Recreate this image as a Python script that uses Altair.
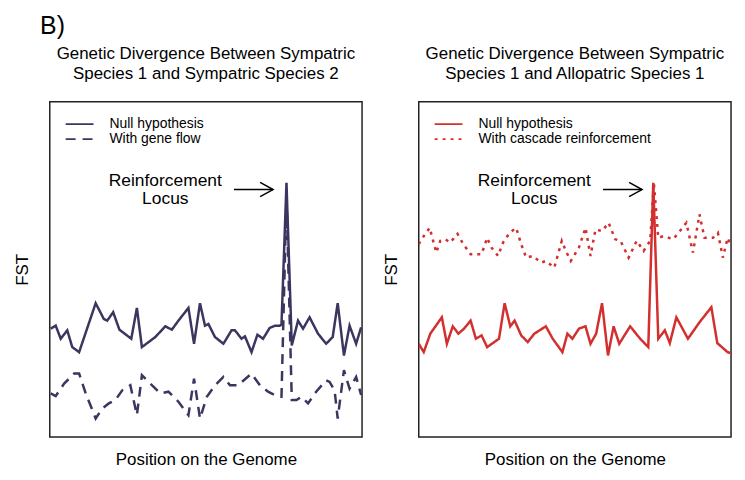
import altair as alt
import pandas as pd

FONT = "Liberation Sans"
NAVY = "#3a3660"
RED = "#d32f2f"

# ---- data (x: position 0-100, y: relative FST 0-1) ----
left_null_x = [0.3, 1.9, 3.5, 5.6, 7.2, 9.4, 14.7, 17.3, 18.4, 20.3, 22.3, 26.1, 27.9, 29.5,
               33.8, 37.0, 39.1, 41.2, 44.4, 46.2, 48.1, 49.7, 50.8, 52.9, 55.6, 58.2, 59.3,
               61.4, 62.5, 64.6, 66.5, 68.3, 70.4, 72.1, 73.6, 74.2, 75.8, 77.5, 79.5, 81.1,
               83.2, 85.9, 88.5, 90.6, 92.2, 94.2, 96.0, 98.1, 99.7]
left_null_y = [0.323, 0.332, 0.293, 0.318, 0.268, 0.253, 0.399, 0.352, 0.347, 0.372, 0.320,
               0.293, 0.385, 0.268, 0.298, 0.330, 0.320, 0.347, 0.385, 0.278, 0.399, 0.332,
               0.337, 0.298, 0.278, 0.318, 0.318, 0.293, 0.300, 0.253, 0.305, 0.293, 0.325,
               0.332, 0.332, 0.335, 0.758, 0.273, 0.347, 0.323, 0.357, 0.308, 0.278, 0.298,
               0.399, 0.243, 0.332, 0.278, 0.327]

left_flow_x = [0.3, 1.9, 4.6, 7.8, 9.4, 11.5, 14.7, 16.8, 18.9, 21.0, 23.2, 25.8, 27.9, 29.5,
               32.2, 35.4, 38.0, 41.2, 44.4, 46.2, 48.1, 50.3, 52.9, 55.6, 57.7, 60.3, 64.6,
               67.3, 69.9, 73.1, 74.2, 75.8, 77.5, 79.0, 80.6, 82.7, 85.3, 88.5, 89.6, 91.2,
               92.2, 94.2, 96.0, 98.1, 99.7]
left_flow_y = [0.130, 0.122, 0.159, 0.189, 0.189, 0.130, 0.055, 0.085, 0.100, 0.110, 0.139,
               0.154, 0.065, 0.184, 0.159, 0.130, 0.135, 0.105, 0.065, 0.174, 0.055, 0.120,
               0.154, 0.179, 0.154, 0.154, 0.189, 0.154, 0.135, 0.120, 0.120, 0.720, 0.110,
               0.110, 0.120, 0.100, 0.135, 0.169, 0.164, 0.139, 0.055, 0.199, 0.144, 0.179,
               0.125]

right_null_x = [0.0, 1.6, 3.7, 7.4, 9.0, 10.9, 12.7, 14.5, 16.6, 18.3, 20.1, 21.9, 25.7, 27.5,
                29.3, 30.7, 32.8, 34.9, 37.0, 40.7, 42.9, 46.0, 47.6, 49.2, 51.3, 53.4, 55.0,
                56.8, 58.7, 60.6, 62.4, 64.2, 67.7, 70.9, 73.5, 75.1, 76.7, 78.8, 80.4, 82.5,
                86.2, 89.9, 93.7, 95.6, 98.9, 100.0]
right_null_y = [0.278, 0.253, 0.308, 0.357, 0.278, 0.330, 0.308, 0.323, 0.347, 0.293, 0.303,
                0.268, 0.293, 0.399, 0.330, 0.347, 0.303, 0.283, 0.308, 0.330, 0.293, 0.253,
                0.308, 0.293, 0.323, 0.330, 0.278, 0.308, 0.399, 0.243, 0.330, 0.278, 0.330,
                0.293, 0.268, 0.758, 0.293, 0.318, 0.280, 0.357, 0.293, 0.342, 0.387, 0.280,
                0.253, 0.250]

right_casc_x = [0.0, 1.6, 3.5, 5.6, 6.9, 8.5, 10.1, 12.4, 14.3, 16.6, 20.1, 21.9, 23.3, 25.4,
                27.0, 29.1, 31.2, 32.8, 34.4, 36.5, 39.2, 40.7, 43.4, 45.8, 47.1, 48.7, 51.3,
                53.4, 55.0, 56.6, 58.7, 60.8, 62.9, 64.6, 67.2, 69.8, 72.0, 74.1, 75.3, 76.7,
                78.3, 81.5, 83.6, 85.7, 87.8, 89.9, 91.5, 94.2, 95.8, 97.4, 98.9, 100.0]
right_casc_y = [0.575, 0.599, 0.624, 0.550, 0.585, 0.590, 0.580, 0.606, 0.575, 0.545, 0.545,
                0.594, 0.565, 0.540, 0.580, 0.609, 0.624, 0.575, 0.535, 0.540, 0.520, 0.525,
                0.505, 0.585, 0.555, 0.525, 0.565, 0.624, 0.540, 0.619, 0.614, 0.639, 0.590,
                0.585, 0.535, 0.585, 0.555, 0.585, 0.758, 0.594, 0.599, 0.590, 0.614, 0.639,
                0.550, 0.664, 0.594, 0.594, 0.609, 0.535, 0.594, 0.570]

left_series = ["Null hypothesis", "With gene flow"]
right_series = ["Null hypothesis", "With cascade reinforcement"]

annot_text = ["Reinforcement", "Locus"]
annot_x = [37.0, 37.0]
annot_y = [0.764, 0.710]
arrow_x = [59.0]
arrow_x2 = [71.5]
arrow_y = [0.738]

left_title = ["Genetic Divergence Between Sympatric", "Species 1 and Sympatric Species 2"]
right_title = ["Genetic Divergence Between Sympatric", "Species 1 and Allopatric Species 1"]


def series_df(xs, ys, name):
    return pd.DataFrame({"pos": xs, "fst": ys, "series": name})


def panel(df, series_names, dash2, color, title):
    xs = alt.X("pos:Q", scale=alt.Scale(domain=[0, 100], nice=False, zero=False),
               axis=alt.Axis(title="Position on the Genome", labels=False, ticks=False,
                             domain=False, grid=False, titleFontSize=17, titleFont=FONT,
                             titleFontWeight="normal", titleColor="black", titlePadding=15))
    ys = alt.Y("fst:Q", scale=alt.Scale(domain=[0, 1], nice=False),
               axis=alt.Axis(title="FST", labels=False, ticks=False, domain=False,
                             grid=False, titleFontSize=17, titleFont=FONT,
                             titleFontWeight="normal", titleColor="black", titlePadding=18))
    lines = alt.Chart(df).mark_line(color=color, strokeWidth=2.5, clip=True,
                                    strokeCap="butt", strokeJoin="miter").encode(
        x=xs, y=ys,
        strokeDash=alt.StrokeDash(
            "series:N",
            scale=alt.Scale(domain=series_names, range=[[1, 0], dash2]),
            legend=alt.Legend(title=None, orient="top-left", offset=15, padding=0,
                              symbolType="stroke", symbolSize=784, symbolStrokeWidth=1.7,
                              symbolStrokeColor=color, labelFont=FONT, labelFontSize=14,
                              labelColor="black", labelOffset=15, rowPadding=0,
                              clipHeight=15, labelLimit=400)),
        detail="series:N",
        order="pos:Q",
    )
    ann = pd.DataFrame({"pos": annot_x, "fst": annot_y, "label": annot_text})
    txt = alt.Chart(ann).mark_text(font=FONT, fontSize=17.5, color="black").encode(
        x="pos:Q", y="fst:Q", text="label:N")
    arr = pd.DataFrame({"pos": arrow_x, "pos2": arrow_x2, "fst": arrow_y})
    shaft = alt.Chart(arr).mark_rule(color="black", strokeWidth=1.5).encode(
        x="pos:Q", x2="pos2:Q", y="fst:Q")
    head = alt.Chart(arr).mark_point(shape="M -1 -0.55 L 0 0 L -1 0.55", filled=False,
                                     size=676, color="black", strokeWidth=1.5,
                                     opacity=1).encode(x="pos2:Q", y="fst:Q")
    return alt.layer(lines, txt, shaft, head).properties(
        width=314, height=337,
        title=alt.TitleParams(title, fontSize=17, font=FONT, fontWeight="normal",
                              color="black", lineHeight=20, offset=19, anchor="middle"),
    )


left_df = pd.concat([series_df(left_null_x, left_null_y, left_series[0]),
                     series_df(left_flow_x, left_flow_y, left_series[1])])
right_df = pd.concat([series_df(right_null_x, right_null_y, right_series[0]),
                      series_df(right_casc_x, right_casc_y, right_series[1])])

left = panel(left_df, left_series, [10, 7], NAVY, left_title)
right = panel(right_df, right_series, [3, 5], RED, right_title)

chart = alt.hconcat(left, right, spacing=19).resolve_scale(
    strokeDash="independent", x="independent", y="independent"
).properties(
    title=alt.TitleParams("B)", fontSize=25, font=FONT, fontWeight="normal",
                          color="black", anchor="start", dx=27, offset=5)
).configure_view(stroke="#222222", strokeWidth=1.5)

chart.save("out.html", embed_options={"renderer": "svg", "actions": False})
